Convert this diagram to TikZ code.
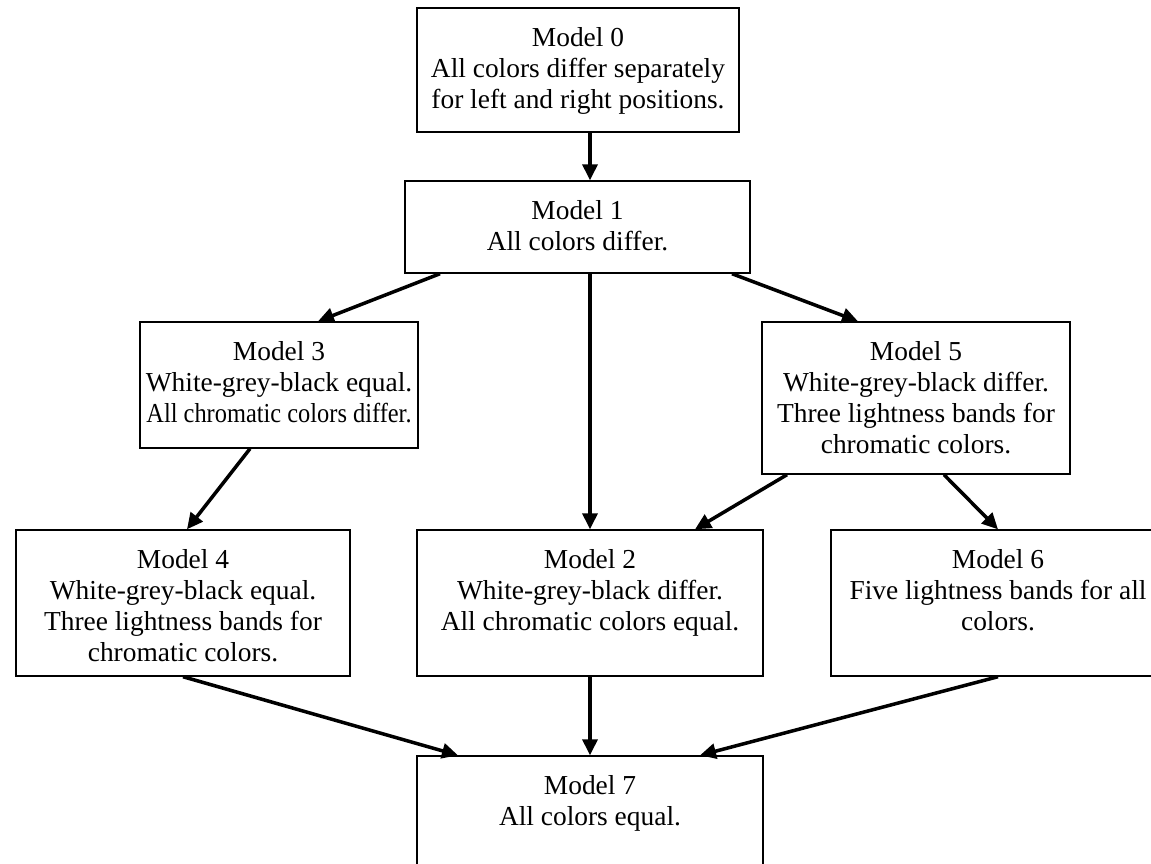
\documentclass[tikz,border=0pt]{standalone}
\usepackage{fontspec}
\usepackage{graphicx}
\setmainfont{Liberation Serif}
\usetikzlibrary{arrows.meta}
\newcommand{\mtxt}[3]{\parbox[c][#2][t]{#1}{\vspace*{0.34cm}%
  \makebox[#1]{\begin{tabular}[t]{@{}c@{}}#3\end{tabular}}}}

\begin{document}
\begin{tikzpicture}[
  mdl/.style={draw, line width=0.8pt, inner sep=0pt,
              font=\fontsize{15.6}{17.6}\selectfont},
  flow/.style={-{Triangle[length=3.2mm,width=3mm]}, line width=2pt},
]
  \useasboundingbox (0,0) rectangle (23.02,-17.28);
  \clip (0,0) rectangle (23.02,-17.28);

  % --- Models ---
  \node[mdl] (m0) at (11.56,-1.40)
    {\mtxt{6.44cm}{2.48cm}{Model 0\\All colors differ separately\\for left and right positions.}};
  \node[mdl] (m1) at (11.55,-4.54)
    {\mtxt{6.9cm}{1.84cm}{Model 1\\All colors differ.}};
  \node[mdl] (m3) at (5.58,-7.70)
    {\mtxt{5.56cm}{2.52cm}{Model 3\\White-grey-black equal.\\\scalebox{0.89}[1]{All chromatic colors differ.}}};
  \node[mdl] (m5) at (18.32,-7.96)
    {\mtxt{6.16cm}{3.04cm}{Model 5\\White-grey-black differ.\\Three lightness bands for\\chromatic colors.}};
  \node[mdl] (m4) at (3.66,-12.06)
    {\mtxt{6.68cm}{2.92cm}{Model 4\\White-grey-black equal.\\Three lightness bands for\\chromatic colors.}};
  \node[mdl] (m2) at (11.80,-12.06)
    {\mtxt{6.92cm}{2.92cm}{Model 2\\White-grey-black differ.\\All chromatic colors equal.}};
  \node[mdl] (m6) at (19.96,-12.06)
    {\mtxt{6.68cm}{2.92cm}{Model 6\\Five lightness bands for all\\colors.}};
  \node[mdl] (m7) at (11.80,-16.62)
    {\mtxt{6.92cm}{3.0cm}{Model 7\\All colors equal.}};

  % --- Arrows ---
  \draw[flow] (m0.south -| m2.north) -- (m1.north -| m2.north);
  \draw[flow] ([xshift=-2.75cm]m1.south) -- ([xshift=0.78cm]m3.north);
  \draw[flow] (m1.south -| m2.north) -- (m2.north);
  \draw[flow] ([xshift=3.09cm]m1.south) -- ([xshift=-1.16cm]m5.north);
  \draw[flow] ([xshift=-0.58cm]m3.south) -- ([xshift=0.08cm]m4.north);
  \draw[flow] ([xshift=-2.58cm]m5.south) -- ([xshift=2.10cm]m2.north);
  \draw[flow] ([xshift=0.56cm]m5.south) -- (m6.north);
  \draw[flow] (m4.south) -- ([xshift=-2.64cm]m7.north);
  \draw[flow] (m2.south) -- (m7.north);
  \draw[flow] (m6.south) -- ([xshift=2.20cm]m7.north);
\end{tikzpicture}
\end{document}
